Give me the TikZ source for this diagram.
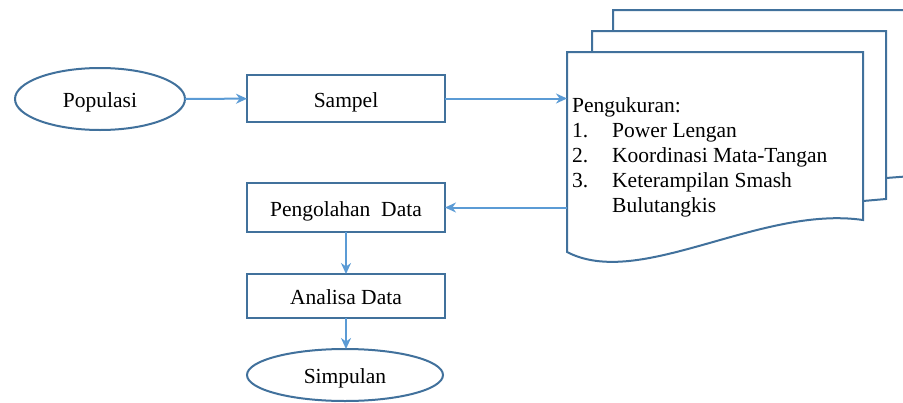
\documentclass[tikz,border=0pt]{standalone}
\usepackage{fontspec}
\setmainfont{Liberation Serif}
\usetikzlibrary{shapes.geometric,arrows.meta}
\definecolor{bordc}{HTML}{41719C}
\definecolor{arrc}{HTML}{5B9BD5}
\tikzset{
  box/.style={draw=bordc,line width=2pt,fill=white,rectangle,minimum width=198pt,inner sep=0pt,outer sep=0pt,text height=17pt,text depth=0pt,font=\fontsize{21.5}{25}\selectfont},
  oval/.style={draw=bordc,line width=2pt,fill=white,ellipse,inner sep=0pt,outer sep=0pt,text height=17pt,text depth=0pt,font=\fontsize{21.5}{25}\selectfont},
  arr/.style={draw=arrc,line width=2pt,-{Stealth[length=11pt,width=10pt]}},
  docsh/.style={draw=bordc,line width=2pt,fill=white,line join=miter},
  txt/.style={anchor=base west,inner sep=0pt,font=\fontsize{21.5}{25}\selectfont}
}
\begin{document}
\begin{tikzpicture}[x=1pt,y=-1pt]
\useasboundingbox (0,0) rectangle (903,402);
% back documents
\path[docsh] (613,10) -- (912,10) -- (912,176) -- (886,178) .. controls (820,155) and (700,240) .. (613,210) -- cycle;
\path[docsh] (592,31) -- (886,31) -- (886,199) -- (863,201) .. controls (800,180) and (680,270) .. (592,232) -- cycle;
% front document
\path[docsh] (567,52) -- (863,52) -- (863,220) .. controls (760,205) and (640,290) .. (567,252) -- cycle;
\node[inner sep=0pt,outer sep=0pt,minimum width=296pt,minimum height=200pt] (doc) at (715,152) {};
\node[txt] (t0) at (572,112) {Pengukuran:};
\node[txt] (n1) at (572,137) {1.};
\node[txt] (t1) at (612,137) {Power Lengan};
\node[txt] (n2) at (572,162) {2.};
\node[txt] (t2) at (612,162) {Koordinasi Mata-Tangan};
\node[txt] (n3) at (572,187) {3.};
\node[txt] (t3) at (612,187) {Keterampilan Smash};
\node[txt] (t4) at (612,212) {Bulutangkis};
% nodes
\node[oval,minimum width=170pt,minimum height=62pt] (pop) at (100,99) {Populasi};
\node[box,minimum height=47pt] (sam) at (346,98.5) {Sampel};
\node[box,minimum height=49pt] (peng) at (346,207.5) {Pengolahan\ \ Data};
\node[box,minimum height=44pt] (ana) at (346,296) {Analisa Data};
\node[oval,minimum width=196pt,minimum height=52pt] (simp) at (345,375) {Simpulan};
% connectors
\draw[arr] (pop) -- (sam);
\draw[arr] (sam) -- (sam -| doc.west);
\draw[arr] (peng -| doc.west) -- (peng);
\draw[arr] (peng) -- (ana);
\draw[arr] (ana) -- (ana |- simp.north);
\end{tikzpicture}
\end{document}
